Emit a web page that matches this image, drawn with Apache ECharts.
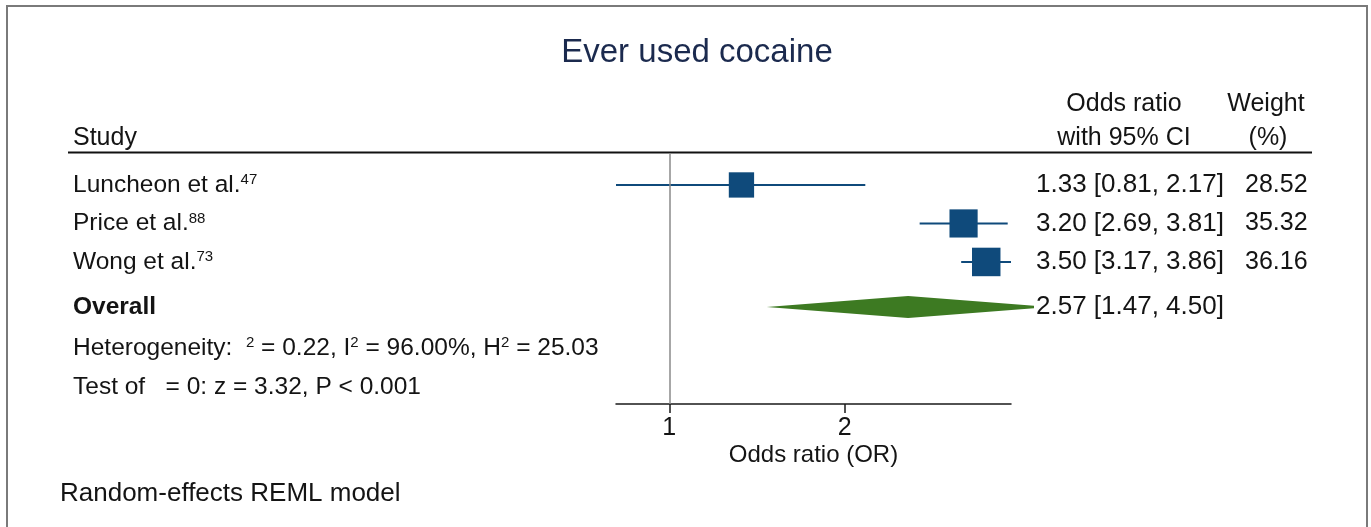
<!DOCTYPE html>
<html>
<head>
<meta charset="utf-8">
<script src="https://cdn.jsdelivr.net/npm/echarts@6/dist/echarts.min.js"></script>
<style>
html,body{margin:0;padding:0;background:#fff;}
#chart{width:1371px;height:527px;}
</style>
</head>
<body>
<div id="chart"></div>
<script>
// ---- data ----
var studies=['Luncheon et al.','Price et al.','Wong et al.'];
var refs=['47','88','73'];
var oddsRatio=[1.33,3.20,3.50];
var ciLow=[0.81,2.69,3.17];
var ciHigh=[2.17,3.81,3.86];
var weights=[28.52,35.32,36.16];
var overallOR=[2.57,1.47,4.50];      // estimate, low, high
var hetStats=['0.22','96.00%','25.03']; // tau2, I2, H2
var testStats=['3.32','< 0.001'];    // z, P
var xTicks=[1,2];

// ---- layout (row centres on the hidden y axis) ----
var rowPos=[1,2,3], overallPos=4.17, hetPos=5.23, testPos=6.25;
var FONT='"Liberation Sans", Arial, Helvetica, sans-serif';
var BLUE='#0f4a7b', GREEN='#3d7a22', TXT='#141414';
var maxW=Math.max.apply(null,weights);
var fmt=function(v){return v.toFixed(2);};
var ciText=function(e,l,h){return fmt(e)+' ['+fmt(l)+', '+fmt(h)+']';};

var studyData=studies.map(function(s,i){return [oddsRatio[i],rowPos[i],ciLow[i],ciHigh[i],weights[i]];});
var diamondData=[[overallOR[0],overallPos,overallOR[1],overallOR[2]]];

// text rows: [x-anchor, row]
var textRows=[];
studies.forEach(function(s,i){textRows.push([1,rowPos[i]]);});
textRows.push([1,overallPos],[1,hetPos],[1,testPos]);

function leftText(i){
  if (i<3) return '{n|'+studies[i]+'}{s|'+refs[i]+'}';
  if (i===3) return '{bold|Overall}';
  if (i===4) return '{n|Heterogeneity:  }{s|2}{n| = '+hetStats[0]+', I}{s|2}{n| = '+hetStats[1]+', H}{s|2}{n| = '+hetStats[2]+'}';
  return '{n|Test of   = 0: z = '+testStats[0]+', P '+testStats[1]+'}';
}
function rightText(i){
  if (i<3) return ciText(oddsRatio[i],ciLow[i],ciHigh[i]);
  if (i===3) return ciText(overallOR[0],overallOR[1],overallOR[2]);
  return '';
}
var richStyle={
  n:{fontSize:24.5,fontFamily:FONT,fill:TXT},
  bold:{fontSize:24.5,fontFamily:FONT,fill:TXT,fontWeight:'bold'},
  s:{fontSize:15,fontFamily:FONT,fill:TXT,verticalAlign:'top'}
};

var chart=echarts.init(document.getElementById('chart'));
chart.setOption({
  animation:false,
  backgroundColor:'#fff',
  title:{text:'Ever used cocaine',left:692,top:31,textAlign:'center',
    textStyle:{fontSize:33,fontWeight:'normal',fontFamily:FONT,color:'#1b2a4e'}},
  grid:{left:616,top:153,width:395,height:251},
  xAxis:{type:'log',logBase:2,min:0.81,max:3.86,
    name:'Odds ratio (OR)',nameLocation:'middle',nameGap:39,
    nameTextStyle:{fontSize:24,fontFamily:FONT,color:TXT},
    axisLine:{lineStyle:{color:'#1a1a1a',width:1.5}},
    axisTick:{customValues:xTicks,length:9,lineStyle:{color:'#1a1a1a',width:1.5}},
    axisLabel:{customValues:xTicks,margin:12,fontSize:25,fontFamily:FONT,color:TXT},
    splitLine:{show:false}},
  yAxis:{type:'value',inverse:true,min:0.17,max:6.69,show:false},
  graphic:[
    {type:'rect',shape:{x:7,y:6,width:1360,height:560},style:{fill:null,stroke:'#7a7a7a',lineWidth:2},silent:true},
    {type:'line',shape:{x1:68,y1:152.5,x2:1312,y2:152.5},style:{stroke:'#111',lineWidth:2},silent:true},
    {type:'text',x:73,y:138,style:{text:'Study',fontSize:25,fontFamily:FONT,fill:TXT,verticalAlign:'middle'}},
    {type:'text',x:1124,y:104,style:{text:'Odds ratio',fontSize:25,fontFamily:FONT,fill:TXT,align:'center',verticalAlign:'middle'}},
    {type:'text',x:1124,y:138,style:{text:'with 95% CI',fontSize:25,fontFamily:FONT,fill:TXT,align:'center',verticalAlign:'middle'}},
    {type:'text',x:1266,y:104,style:{text:'Weight',fontSize:25,fontFamily:FONT,fill:TXT,align:'center',verticalAlign:'middle'}},
    {type:'text',x:1268,y:138,style:{text:'(%)',fontSize:25,fontFamily:FONT,fill:TXT,align:'center',verticalAlign:'middle'}},
    {type:'text',x:60,y:494,style:{text:'Random-effects REML model',fontSize:26,fontFamily:FONT,fill:TXT,verticalAlign:'middle'}}
  ],
  series:[
    {type:'custom',name:'studies',data:studyData,encode:{x:0,y:1},clip:false,
      renderItem:function(params,api){
        var y=api.value(1);
        var lo=api.coord([api.value(2),y]), hi=api.coord([api.value(3),y]), c=api.coord([api.value(0),y]);
        var side=28.5*Math.sqrt(api.value(4)/maxW);
        return {type:'group',children:[
          {type:'line',shape:{x1:lo[0],y1:lo[1],x2:hi[0],y2:hi[1]},style:{stroke:BLUE,lineWidth:2}},
          {type:'rect',shape:{x:c[0]-side/2,y:c[1]-side/2,width:side,height:side},style:{fill:BLUE}}
        ]};
      },
      markLine:{silent:true,symbol:['none','none'],label:{show:false},
        lineStyle:{color:'#8a8a8a',width:1.5,type:'solid'},data:[{xAxis:1}]}
    },
    {type:'custom',name:'overall',data:diamondData,encode:{x:0,y:1},clip:false,
      renderItem:function(params,api){
        var y=api.value(1), h=11, xClip=1034;
        var e=api.coord([api.value(0),y]), lo=api.coord([api.value(2),y]), hi=api.coord([api.value(3),y]);
        var pts=[[lo[0],lo[1]],[e[0],e[1]-h]];
        if (hi[0]>xClip){
          var hc=h*(hi[0]-xClip)/(hi[0]-e[0]);
          pts.push([xClip,e[1]-hc],[xClip,e[1]+hc]);
        } else pts.push([hi[0],hi[1]]);
        pts.push([e[0],e[1]+h]);
        return {type:'polygon',shape:{points:pts},style:{fill:GREEN}};
      }
    },
    {type:'custom',name:'text',data:textRows,encode:{x:0,y:1},clip:false,silent:true,
      renderItem:function(params,api){
        var i=params.dataIndex;
        var p=api.coord([api.value(0),api.value(1)]);
        var kids=[{type:'text',x:73,y:p[1],style:{text:leftText(i),rich:richStyle,fontSize:24.5,fontFamily:FONT,fill:TXT,verticalAlign:'middle'}}];
        if (rightText(i)) kids.push({type:'text',x:1036,y:p[1],style:{text:rightText(i),fontSize:26,fontFamily:FONT,fill:TXT,verticalAlign:'middle'}});
        if (i<3) kids.push({type:'text',x:1245,y:p[1],style:{text:fmt(weights[i]),fontSize:25,fontFamily:FONT,fill:TXT,verticalAlign:'middle'}});
        return {type:'group',children:kids};
      }
    }
  ]
});
</script>
</body>
</html>
